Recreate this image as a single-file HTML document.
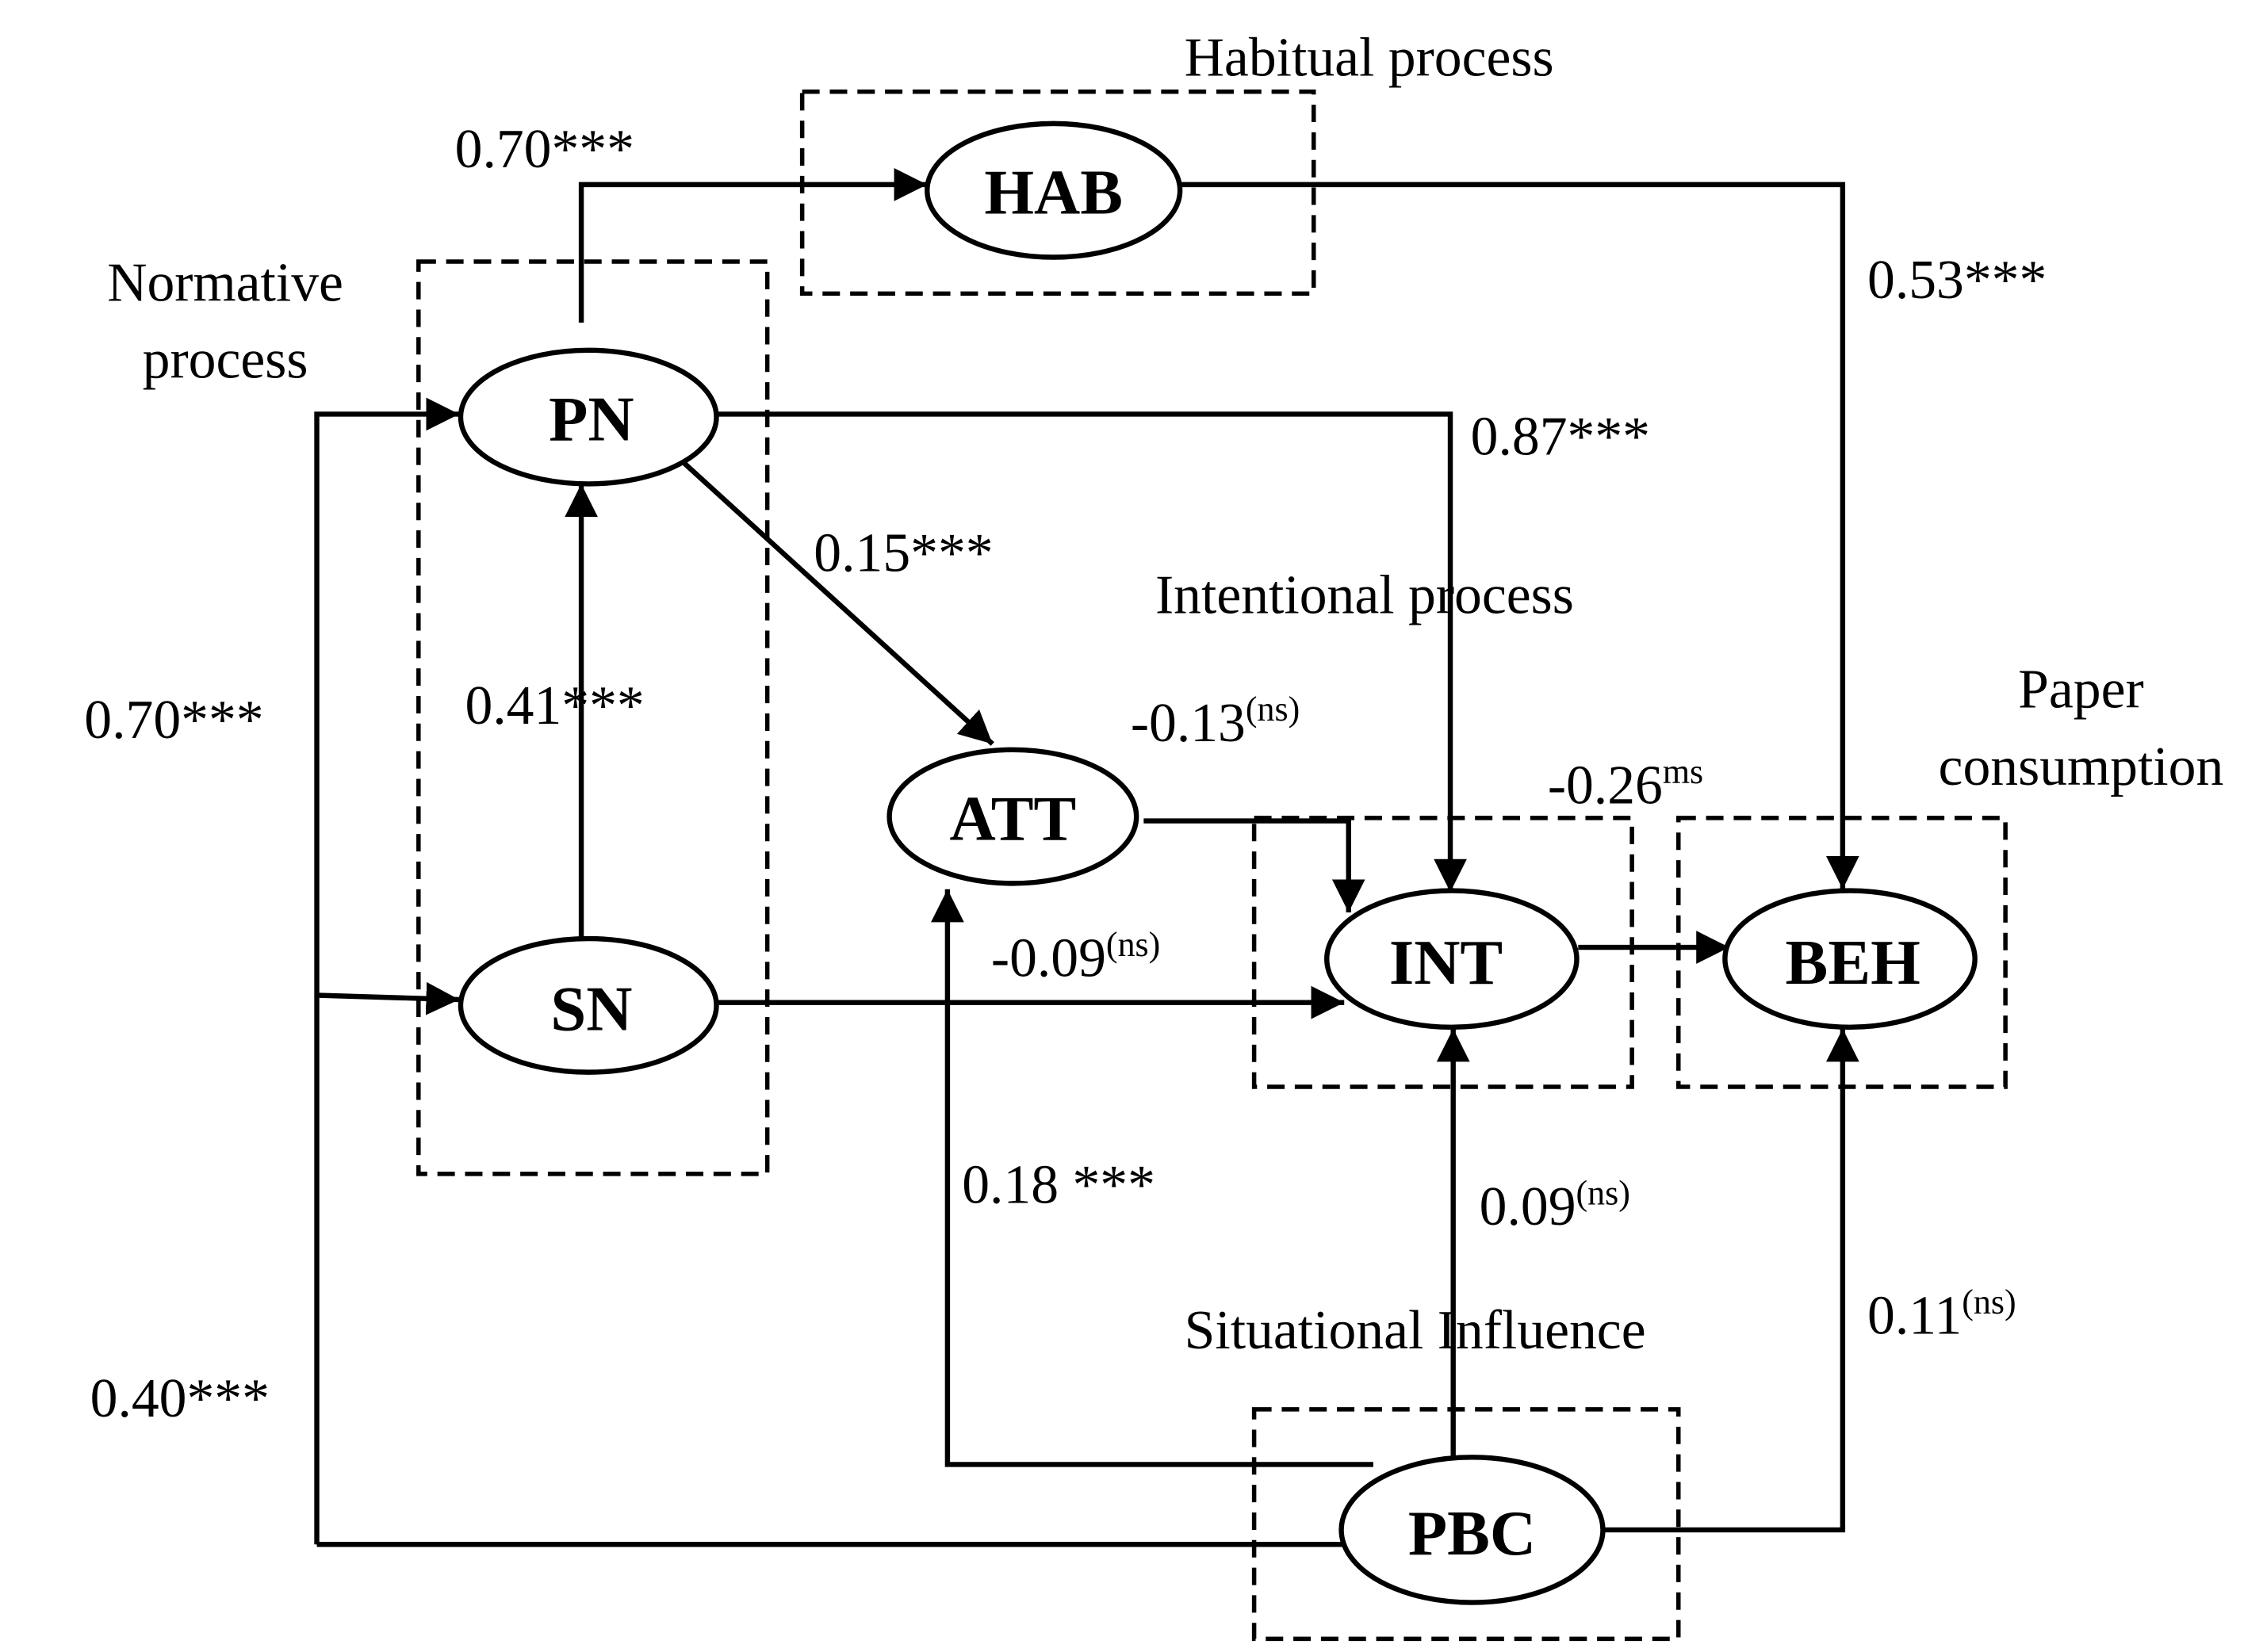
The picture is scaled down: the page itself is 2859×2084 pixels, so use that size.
<!DOCTYPE html>
<html><head><meta charset="utf-8"><style>html,body{margin:0;padding:0;background:#fff}svg{display:block}</style></head>
<body>
<svg xmlns="http://www.w3.org/2000/svg" width="2859" height="2084" viewBox="0 0 1560 1137">
<defs><marker id="a" viewBox="0 0 10 10" refX="10" refY="5" markerWidth="7" markerHeight="7" markerUnits="userSpaceOnUse" orient="auto"><path d="M0,0 L10,5 L0,10 z" fill="#000"/></marker>
<marker id="b" viewBox="0 0 10 10" refX="10" refY="5" markerWidth="6.5" markerHeight="6.5" orient="auto"><path d="M0,0 L10,5 L0,10 z" fill="#000"/></marker></defs>
<rect width="1560" height="1137" fill="#fff"/>
<g fill="none" stroke="#000" stroke-width="3" stroke-dasharray="12 7">
<rect x="552" y="63" width="352" height="139"/>
<rect x="288" y="180" width="240" height="628"/>
<rect x="863" y="563" width="260" height="185"/>
<rect x="1155" y="563" width="225" height="185"/>
<rect x="863" y="970" width="292" height="158"/>
</g>
<g fill="none" stroke="#000" stroke-width="3.5" marker-end="url(#b)">
<path d="M400,222 V127 H638"/>
<path d="M812,127 H1268 V612"/>
<path d="M218,1063 V285 H316"/>
<path d="M218,685 L316,688"/>
<path d="M400,645 V333"/>
<path d="M492,285 H998 V614"/>
<path d="M470,318 L683,512"/>
<path d="M787,565 H928 V628"/>
<path d="M492,690 H925"/>
<path d="M1086,652 H1190"/>
<path d="M1000,1003 V708"/>
<path d="M945,1008 H652 V612"/>
<path d="M1103,1053 H1268 V708"/>
</g>
<path d="M218,1063 H925" stroke="#000" stroke-width="3.5" fill="none"/>
<g fill="#fff" stroke="#000" stroke-width="3.5">
<ellipse cx="725" cy="131" rx="87" ry="46"/>
<ellipse cx="405" cy="287" rx="88" ry="46"/>
<ellipse cx="405" cy="692" rx="88" ry="46"/>
<ellipse cx="697" cy="562" rx="85" ry="46"/>
<ellipse cx="999" cy="660" rx="86" ry="47"/>
<ellipse cx="1273" cy="660" rx="86" ry="47"/>
<ellipse cx="1013" cy="1053" rx="90" ry="50"/>
</g>
<g font-family="Liberation Serif, serif" font-weight="bold" font-size="44" text-anchor="middle">
<text x="725" y="147">HAB</text>
<text x="407" y="303">PN</text>
<text x="407" y="709">SN</text>
<text x="697" y="578">ATT</text>
<text x="995" y="677">INT</text>
<text x="1275" y="677">BEH</text>
<text x="1013" y="1070">PBC</text>
</g>
<g font-family="Liberation Serif, serif" font-size="38" fill="#000">
<text x="815" y="52">Habitual process</text>
<text x="313" y="115">0.70***</text>
<text x="1285" y="205">0.53***</text>
<text x="155" y="207" text-anchor="middle">Normative</text>
<text x="155" y="260" text-anchor="middle">process</text>
<text x="1012" y="313">0.87***</text>
<text x="560" y="393">0.15***</text>
<text x="795" y="422">Intentional process</text>
<text x="320" y="498">0.41***</text>
<text x="58" y="508">0.70***</text>
<text x="778" y="510">-0.13<tspan font-size="24" dy="-14">(ns)</tspan></text>
<text x="1065" y="553">-0.26<tspan font-size="24" dy="-14">ms</tspan></text>
<text x="1432" y="487" text-anchor="middle">Paper</text>
<text x="1432" y="540" text-anchor="middle">consumption</text>
<text x="682" y="672">-0.09<tspan font-size="24" dy="-14">(ns)</tspan></text>
<text x="662" y="828">0.18 ***</text>
<text x="1018" y="843">0.09<tspan font-size="24" dy="-14">(ns)</tspan></text>
<text x="1285" y="918">0.11<tspan font-size="24" dy="-14">(ns)</tspan></text>
<text x="815" y="928">Situational Influence</text>
<text x="62" y="975">0.40***</text>
</g>
</svg>
</body></html>
